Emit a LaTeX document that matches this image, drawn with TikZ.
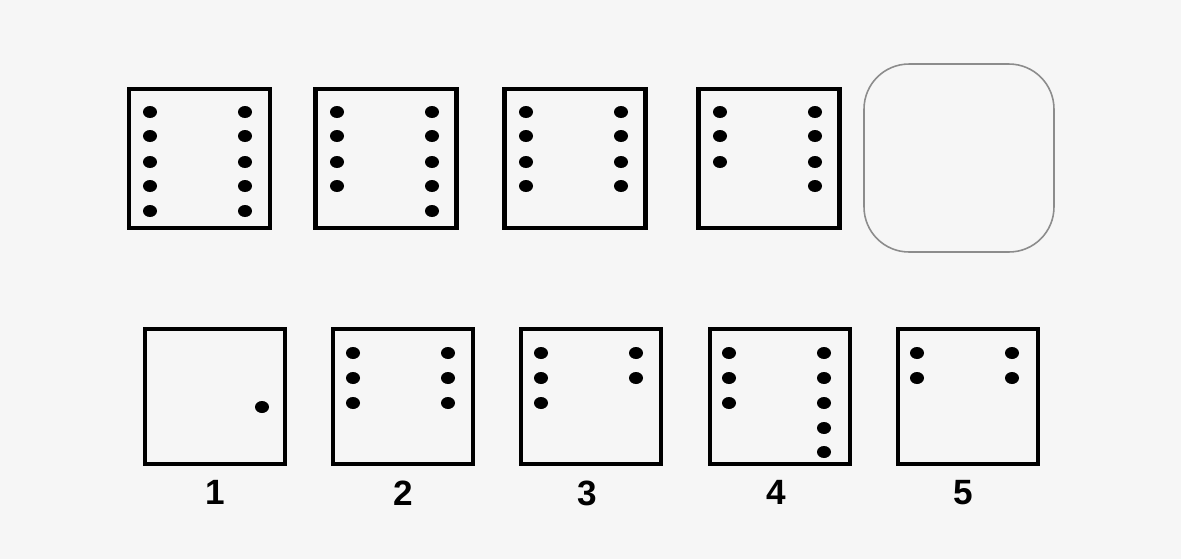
\documentclass[tikz,border=0pt]{standalone}
\usepackage{fontspec}
\setmainfont{Liberation Sans}
\usepackage{tikz}
\usetikzlibrary{positioning}
\definecolor{paper}{RGB}{246,246,246}
\definecolor{blank}{RGB}{140,140,140}

\begin{document}
\begin{tikzpicture}[
  x=0.02cm,y=-0.02cm,
  cell/.style={draw,line width=2.6pt,minimum width=2.82cm,minimum height=2.78cm,inner sep=0pt},
  opt/.style={draw,line width=2.6pt,minimum width=2.80cm,minimum height=2.70cm,inner sep=0pt},
  blankcell/.style={draw=blank,line width=0.9pt,rounded corners=0.9cm,minimum width=3.8cm,minimum height=3.76cm,inner sep=0pt},
  num/.style={font=\fontsize{20}{20}\selectfont\bfseries,inner sep=0pt}
]
\fill[paper] (0,0) rectangle (1181,559);
\useasboundingbox (0,0) rectangle (1181,559);

% --- top row: sequence ---
\node[cell] (t1) at (199.5,158.5) {};
\node[cell] (t2) at (386,158.5) {};
\node[cell] (t3) at (575,158.5) {};
\node[cell] (t4) at (769,158.5) {};
\node[blankcell] (t5) at (959,158) {};

% dots: x / how many rows
\foreach \x/\n in {150/5,245/5, 337/4,432/5, 526/4,621/4, 720/3,815/4}
  \foreach \y [count=\i] in {112,136,162,186,211}
    {\ifnum\i>\n\else\fill (\x,\y) ellipse [x radius=7,y radius=6];\fi}

% --- bottom row: answers ---
\node[opt] (a1) at (215,396.5) {};
\node[opt] (a2) at (403,396.5) {};
\node[opt] (a3) at (591,396.5) {};
\node[opt] (a4) at (780,396.5) {};
\node[opt] (a5) at (968,396.5) {};

\fill (262,407) ellipse [x radius=7,y radius=6];
\foreach \x/\n in {353/3,448/3, 541/3,636/2, 729/3,824/5, 917/2,1012/2}
  \foreach \y [count=\i] in {353,378,403,428,452}
    {\ifnum\i>\n\else\fill (\x,\y) ellipse [x radius=7,y radius=6];\fi}

\node[num,below=0.28cm of a1] (n1) {1};
\node[num,below=0.28cm of a2] (n2) {2};
\node[num,below=0.28cm of a3,xshift=-0.07cm] (n3) {3};
\node[num,below=0.28cm of a4,xshift=-0.07cm] (n4) {4};
\node[num,below=0.28cm of a5,xshift=-0.1cm] (n5) {5};
\end{tikzpicture}
\end{document}
